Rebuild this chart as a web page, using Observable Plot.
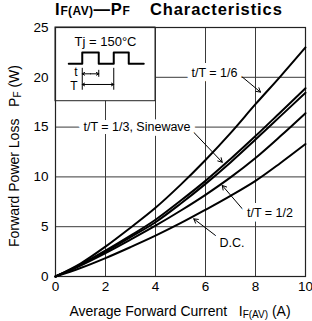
<!DOCTYPE html>
<html><head><meta charset="utf-8">
<script src="https://cdn.jsdelivr.net/npm/d3@7"></script>
<script src="https://cdn.jsdelivr.net/npm/@observablehq/plot@0.6"></script>
<style>
body{margin:0;background:#fff;font-family:"Liberation Sans",Arial,sans-serif;}
#title{position:relative;width:312px;height:20px;font-weight:bold;font-size:16.5px;line-height:19px;white-space:nowrap;}
#title .p{position:absolute;top:0;}
#title .a{left:55px;letter-spacing:0.8px;}
#title .b{left:150px;letter-spacing:0.9px;}
#title .s{font-size:12px;letter-spacing:0.4px;}
</style></head><body>
<div id="title"><span class="p a">I<span class="s">F(AV)</span>—P<span class="s">F</span></span><span class="p b">Characteristics</span></div>
<div id="chart"></div>
<script>
// ---- data ----
const current = [0, 1, 2, 3, 4, 5, 6, 7, 8, 9, 10];
const pfSixth = [0, 1.3, 3.0, 4.9, 6.9, 9.2, 11.7, 14.4, 17.3, 20.1, 23.0];
const pfThird = [0, 1.2, 2.6, 4.1, 5.7, 7.6, 9.6, 11.8, 14.1, 16.5, 18.9];
const pfSine  = [0, 1.15, 2.5, 3.95, 5.45, 7.3, 9.3, 11.45, 13.75, 16.1, 18.45];
const pfHalf  = [0, 1.1, 2.35, 3.7, 5.1, 6.6, 8.2, 9.95, 11.9, 14.1, 16.4];
const pfDC    = [0, 0.85, 1.85, 2.95, 4.1, 5.35, 6.7, 8.1, 9.6, 11.4, 13.3];
const seriesNames = ["t/T = 1/6", "t/T = 1/3", "Sinewave", "t/T = 1/2", "D.C."];
const seriesValues = [pfSixth, pfThird, pfSine, pfHalf, pfDC];

const xTicks = [0, 2, 4, 6, 8, 10];
const yTicks = [0, 5, 10, 15, 20, 25];
const xGrid = [2, 4, 6, 8];
const yGrid = [5, 10, 15, 20];

// annotation labels
const labelText = ["t/T = 1/6", "t/T = 1/3, Sinewave", "t/T = 1/2", "D.C."];
const labelX = [6.36, 3.26, 8.58, 7.06];
const labelY = [20.41, 15.06, 6.33, 3.41];
// leader arrows
const arrowX1 = [7.4, 5.4, 7.53, 6.4];
const arrowY1 = [20.18, 14.82, 6.63, 4.12];
const arrowX2 = [8.2, 6.67, 6.67, 5.53];
const arrowY2 = [18.51, 11.47, 9.14, 5.79];

// inset box
const insetX = [0, 4];
const insetY = [17.6, 25];
const insetTitle = "Tj = 150°C";
const insetTitleXY = [2.0, 23.52];
const waveX = [0.53, 1.07, 1.07, 1.73, 1.73, 2.33, 2.33, 2.93, 2.93, 3.53];
const waveY = [21.35, 21.35, 22.5, 22.5, 21.35, 21.35, 22.5, 22.5, 21.35, 21.35];
const dimTickX = [1.07, 1.73, 2.33];
const dimTickY1 = [18.7, 20.0, 18.7];
const dimTickY2 = [20.9, 20.7, 20.9];
const dimArrowY = [20.35, 19.28];
const dimArrowX1 = [1.07, 1.07];
const dimArrowX2 = [1.73, 2.33];
const dimLabel = ["t", "T"];
const dimLabelX = [0.82, 0.74];
const dimLabelY = [20.5, 19.15];

// ---- build tables ----
const curves = seriesNames.flatMap((name, i) =>
  current.map((c, j) => ({series: name, x: c, y: seriesValues[i][j]})));
const labels = labelText.map((t, i) => ({t, x: labelX[i], y: labelY[i]}));
const arrows = arrowX1.map((_, i) => ({x1: arrowX1[i], y1: arrowY1[i], x2: arrowX2[i], y2: arrowY2[i]}));
const wave = waveX.map((x, i) => ({x, y: waveY[i]}));
const dimTicks = dimTickX.map((x, i) => ({x, y1: dimTickY1[i], y2: dimTickY2[i]}));
const dimArrows = [];
dimArrowY.forEach((y, i) => {
  const m = (dimArrowX1[i] + dimArrowX2[i]) / 2;
  dimArrows.push({x1: m, x2: dimArrowX1[i], y});
  dimArrows.push({x1: m, x2: dimArrowX2[i], y});
});
const dimLabels = dimLabel.map((t, i) => ({t, x: dimLabelX[i], y: dimLabelY[i]}));

const font = '"Liberation Sans", Arial, sans-serif';
const plot = Plot.plot({
  width: 312,
  height: 301,
  marginTop: 7,
  marginBottom: 45,
  marginLeft: 55,
  marginRight: 7,
  style: {fontFamily: font, fontSize: "13.5px", color: "#000", background: "#fff"},
  x: {domain: [0, 10], ticks: xTicks, tickSize: 0, tickPadding: 5, label: null},
  y: {domain: [0, 25], ticks: yTicks, tickSize: 0, tickPadding: 7, label: null},
  marks: [
    Plot.ruleX(xGrid, {stroke: "#3a3a3a", strokeWidth: 1}),
    Plot.ruleY(yGrid, {stroke: "#3a3a3a", strokeWidth: 1}),
    Plot.rect([{}], {x1: insetX[0], x2: insetX[1], y1: insetY[0], y2: insetY[1], fill: "white", stroke: "#222", strokeWidth: 1}),
    Plot.frame({stroke: "#222", strokeWidth: 1.2}),
    Plot.line(curves, {x: "x", y: "y", z: "series", stroke: "black", strokeWidth: 2, curve: "catmull-rom"}),
    Plot.arrow(arrows, {x1: "x1", y1: "y1", x2: "x2", y2: "y2", stroke: "black", strokeWidth: 1, headLength: 7, bend: false}),
    Plot.text(labels, {x: "x", y: "y", text: "t", fontSize: 12.5, fill: "black", stroke: "white", strokeWidth: 10, strokeLinejoin: "round"}),
    Plot.text([insetTitle], {x: insetTitleXY[0], y: insetTitleXY[1], text: d => d, fontSize: 13, fill: "black"}),
    Plot.line(wave, {x: "x", y: "y", stroke: "black", strokeWidth: 2}),
    Plot.ruleX(dimTicks, {x: "x", y1: "y1", y2: "y2", stroke: "black", strokeWidth: 1}),
    Plot.arrow(dimArrows, {x1: "x1", x2: "x2", y1: "y", y2: "y", stroke: "black", strokeWidth: 1, headLength: 4, bend: false}),
    Plot.text(dimLabels, {x: "x", y: "y", text: "t", fontSize: 12, fill: "black"})
  ]
});
document.getElementById("chart").appendChild(plot);

// axis titles with subscripts
const svg = d3.select(plot);
const xl = svg.append("text")
  .attr("x", 180).attr("y", 296)
  .attr("text-anchor", "middle")
  .style("font-family", font).style("font-size", "14px").style("white-space", "pre")
  .attr("fill", "black");
xl.append("tspan").text("Average Forward Current   I");
xl.append("tspan").text("F(AV)").style("font-size", "10px").attr("dy", "2");
xl.append("tspan").text(" (A)").attr("dy", "-2");

const yl = svg.append("text")
  .attr("transform", "translate(19,136) rotate(-90)")
  .attr("text-anchor", "middle")
  .style("font-family", font).style("font-size", "14px").style("white-space", "pre")
  .attr("fill", "black");
yl.append("tspan").text("Forward Power Loss   P");
yl.append("tspan").text("F").style("font-size", "10px").attr("dy", "2");
yl.append("tspan").text(" (W)").attr("dy", "-2");
</script></body></html>
